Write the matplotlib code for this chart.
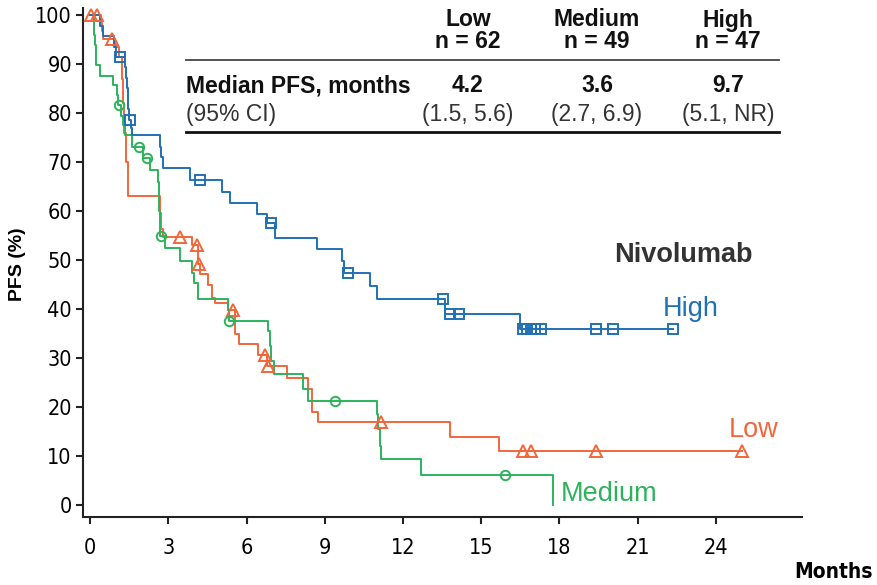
import numpy as np
import matplotlib
matplotlib.use("Agg")
import matplotlib.pyplot as plt
from matplotlib import font_manager
from matplotlib.font_manager import FontProperties

# ---------------- data ----------------
groups = ["Low", "Medium", "High"]
n_patients = [62, 49, 47]
median_pfs = ["4.2", "3.6", "9.7"]
ci_95 = ["(1.5, 5.6)", "(2.7, 6.9)", "(5.1, NR)"]

# Kaplan-Meier step knots (months, PFS %)
high_t = [0, 0.4, 0.5, 0.9, 1.0, 1.35, 1.38, 1.41, 1.44, 1.47, 1.5, 1.58, 1.62,
          2.68, 2.74, 2.8, 3.83, 5.05, 5.37, 6.39, 6.77, 7.09, 8.69, 9.65, 9.75,
          10.74, 11.0, 13.6, 16.5, 22.35]
high_s = [100, 97.9, 95.7, 93.6, 91.5, 89.4, 87.2, 85.1, 83.0, 80.9, 78.7, 76.9, 75.5,
          73.2, 71.0, 68.8, 66.4, 64.0, 61.7, 59.4, 57.6, 54.6, 52.2, 49.9, 47.3,
          44.8, 42.0, 39.0, 36.0, 36.0]
high_cens = [1.15, 1.53, 4.2, 6.95, 9.9, 13.55, 13.8, 14.15, 16.6, 16.75, 16.9,
             17.05, 17.3, 19.4, 20.05, 22.35]

low_t = [0, 0.42, 0.45, 0.5, 0.96, 1.1, 1.22, 1.27, 1.32, 1.38, 1.44, 1.46,
         2.68, 2.74, 2.8, 3.9, 4.15, 4.2, 4.54, 4.67, 4.8, 5.3, 5.56, 5.7, 6.45,
         6.8, 7.54, 8.37, 8.5, 8.75, 13.8, 15.7, 25.0]
low_s = [100, 98.4, 96.8, 95.2, 93.5, 91.5, 87.0, 82.0, 76.0, 70.0, 66.0, 63.0,
         59.7, 56.3, 54.7, 53.1, 49.1, 47.1, 45.0, 42.3, 41.3, 39.7, 34.9, 32.8, 30.6,
         28.4, 26.0, 23.7, 18.9, 16.9, 13.9, 11.0, 11.0]
low_cens = [0.05, 0.28, 0.83, 3.45, 4.09, 4.17, 5.48, 6.71, 6.84, 11.14,
            16.6, 16.9, 19.4, 25.0]

med_t = [0, 0.15, 0.17, 0.19, 0.21, 0.23, 0.38, 0.89, 1.02, 1.08, 1.2, 1.25, 1.35,
         1.6, 2.04, 2.3, 2.62, 2.64, 2.66, 2.68, 2.7, 2.88, 3.45, 3.9, 4.0, 4.15,
         5.28, 5.32, 6.84, 6.9, 6.95, 7.05, 8.18, 8.37, 10.99, 11.05, 11.1, 11.15,
         12.69, 17.74]
med_s = [100, 98.0, 96.0, 93.9, 91.8, 89.8, 87.7, 85.7, 83.7, 81.6, 79.5, 77.5, 75.5,
         73.0, 70.8, 68.5, 66.0, 63.0, 60.0, 57.0, 54.9, 52.5, 49.8, 47.3, 45.4, 42.0,
         39.7, 37.6, 35.5, 32.5, 29.4, 26.8, 23.7, 21.3, 18.6, 15.5, 12.1, 9.4,
         6.1, 0.0]
med_cens = [1.12, 1.89, 2.17, 2.72, 5.33, 9.4, 15.9]

x_ticks = [0, 3, 6, 9, 12, 15, 18, 21, 24]
y_ticks = [0, 10, 20, 30, 40, 50, 60, 70, 80, 90, 100]

# ---------------- style ----------------
C_LOW = "#F2663A"
C_MED = "#2DB35C"
C_HIGH = "#2070B4"

names = {f.name for f in font_manager.fontManager.ttflist}
SANS = "Liberation Sans" if "Liberation Sans" in names else "DejaVu Sans"
plt.rcParams["font.family"] = [SANS, "DejaVu Sans"]


def find_narrow(bold=False):
    cands = []
    for f in font_manager.fontManager.ttflist:
        fn = f.fname.lower()
        if ("narrow" in fn or "condensed" in fn) and ("oblique" not in fn and "italic" not in fn):
            isbold = "bold" in fn
            if isbold == bold:
                pri = 0 if "liberation" in fn else (1 if "dejavusans" in fn.replace("-", "") else 2)
                cands.append((pri, f.fname))
    cands.sort()
    return cands[0][1] if cands else None


nar = find_narrow(False)
narb = find_narrow(True)
if nar:
    tick_fp = FontProperties(fname=nar, size=15.5)
else:
    tick_fp = FontProperties(family=SANS, size=14)
if narb:
    months_fp = FontProperties(fname=narb, size=15)
else:
    months_fp = FontProperties(family=SANS, weight="bold", size=14)

W, H = 877, 585
fig = plt.figure(figsize=(W / 100, H / 100), dpi=100)
ax = fig.add_axes([83 / W, 1 - 517 / H, (802 - 83) / W, (517 - 8) / H])


def step_value(t, s, c):
    i = np.searchsorted(np.asarray(t), c, side="right") - 1
    return np.asarray(s)[max(i, 0)]


for t, s, cens, col, mk, ms in [
    (low_t, low_s, low_cens, C_LOW, "^", 8),
    (med_t, med_s, med_cens, C_MED, "o", 6.8),
    (high_t, high_s, high_cens, C_HIGH, "s", 6.8),
]:
    ax.step(t, s, where="post", color=col, lw=1.4, zorder=3)
    cy = [step_value(t, s, c) for c in cens]
    ax.plot(cens, cy, linestyle="none", marker=mk, ms=ms, mfc="none",
            mec=col, mew=1.4, zorder=4)

ax.set_xlim(-0.27, 27.3)
ax.set_ylim(-2.5, 101.5)
ax.set_xticks(x_ticks)
ax.set_yticks(y_ticks)
for sp in ["top", "right"]:
    ax.spines[sp].set_visible(False)
for sp in ["left", "bottom"]:
    ax.spines[sp].set_linewidth(1.5)
    ax.spines[sp].set_color("#222222")
ax.tick_params(axis="both", direction="out", length=5, width=1.5, color="#222222",
               pad=3)
ax.tick_params(axis="x", pad=10)
for lab in ax.get_xticklabels() + ax.get_yticklabels():
    lab.set_fontproperties(tick_fp)

fig.text(18 / W, 1 - 264 / H, "PFS (%)", rotation=90, ha="center", va="center",
         fontsize=14, fontweight="bold")
fig.text(873 / W, 1 - 572 / H, "Months", ha="right", va="center",
         fontproperties=months_fp)

# curve labels
lab_fs = 19.5
ax.text(21.95, 40.0, "High", color=C_HIGH, fontsize=lab_fs, va="center", ha="left")
ax.text(24.5, 15.2, "Low", color=C_LOW, fontsize=lab_fs, va="center", ha="left")
ax.text(18.05, 2.2, "Medium", color=C_MED, fontsize=lab_fs, va="center", ha="left")
ax.text(20.1, 51.0, "Nivolumab", color="#333333", fontsize=lab_fs, va="center",
        ha="left", fontweight="bold")

# table
tfs = 16.5
col_x = [468, 597, 728]
for gx, g, n, m, ci in zip(col_x, groups, n_patients, median_pfs, ci_95):
    fig.text(gx / W, 1 - 20 / H, g, ha="center", va="center", fontsize=tfs,
             fontweight="bold", color="#111111")
    fig.text(gx / W, 1 - 42 / H, f"n = {n}", ha="center", va="center",
             fontsize=tfs, fontweight="bold", color="#111111")
    fig.text(gx / W, 1 - 86 / H, m, ha="center", va="center", fontsize=tfs,
             fontweight="bold", color="#111111")
    fig.text(gx / W, 1 - 114 / H, ci, ha="center", va="center", fontsize=tfs,
             color="#333333")
fig.text(186 / W, 1 - 86 / H, "Median PFS, months", ha="left", va="center",
         fontsize=tfs, fontweight="bold", color="#111111")
fig.text(186 / W, 1 - 114 / H, "(95% CI)", ha="left", va="center",
         fontsize=tfs, color="#333333")
fig.add_artist(plt.Line2D([186 / W, 779 / W], [1 - 60 / H, 1 - 60 / H],
                          color="#444444", lw=1.3))
fig.add_artist(plt.Line2D([186 / W, 779 / W], [1 - 132 / H, 1 - 132 / H],
                          color="#111111", lw=2.0))

fig.savefig("out.png", dpi=100)
